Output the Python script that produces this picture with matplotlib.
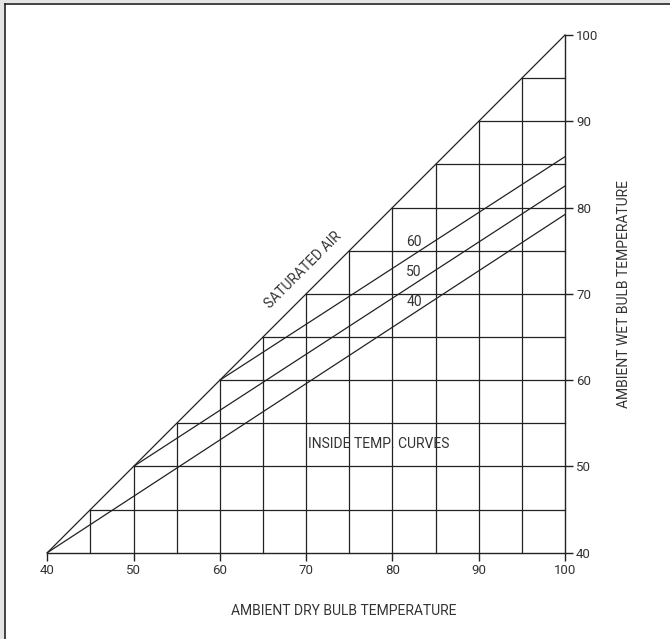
import matplotlib
matplotlib.use("Agg")
import matplotlib.pyplot as plt
from matplotlib.patches import Rectangle
from matplotlib.lines import Line2D

# chart data
ticks = [40, 50, 60, 70, 80, 90, 100]
tick_labels = ["40", "50", "60", "70", "80", "90", "100"]
grid_steps = [45, 50, 55, 60, 65, 70, 75, 80, 85, 90, 95]
curve_names = ["40", "50", "60"]
curve_x = [[40, 100], [50, 100], [60, 100]]
curve_y = [[40, 79.2], [50, 82.5], [60, 85.9]]
curve_label_pos = [(82.5, 69.1), (82.5, 72.5), (82.5, 76.0)]

W, H = 670, 639
plt.rcParams['font.family'] = ['Roboto', 'DejaVu Sans']
ink = '#222222'
txt = '#333333'

fig = plt.figure(figsize=(W / 100, H / 100), dpi=100)
fig.patch.set_facecolor('white')

# page border (gray margin at top and left)
fig.patches.append(Rectangle((0, 0), 4 / W, 1, transform=fig.transFigure,
                             facecolor='#e4e4e4', edgecolor='none'))
fig.patches.append(Rectangle((0, 1 - 3 / H), 1, 3 / H, transform=fig.transFigure,
                             facecolor='#e4e4e4', edgecolor='none'))
fig.lines.append(Line2D([4.5 / W, 4.5 / W], [0, 1 - 3.5 / H], transform=fig.transFigure,
                        color='#222222', lw=1.2))
fig.lines.append(Line2D([4.5 / W, 1], [1 - 3.5 / H, 1 - 3.5 / H], transform=fig.transFigure,
                        color='#222222', lw=1.2))

# axes placed so that 40..100 maps onto the chart square
x0, x1 = 47.3, 565.0
y0, y1 = 552.7, 35.0
ax = fig.add_axes([x0 / W, 1 - y0 / H, (x1 - x0) / W, (y0 - y1) / H])
ax.set_xlim(40, 100)
ax.set_ylim(40, 100)
ax.set_facecolor('none')

for s in ['left', 'top']:
    ax.spines[s].set_visible(False)
for s in ['bottom', 'right']:
    ax.spines[s].set_color(ink)
    ax.spines[s].set_linewidth(1.0)

ax.set_xticks(ticks)
ax.set_xticklabels(tick_labels)
ax.set_yticks(ticks)
ax.set_yticklabels(tick_labels)
ax.yaxis.tick_right()
ax.tick_params(axis='both', direction='out', length=6, width=1.0, color=ink,
               labelsize=9.5, labelcolor=txt, pad=2)

# saturated air line
ax.plot([40, 100], [40, 100], color=ink, lw=0.9, clip_on=False)

# grid: horizontals from saturation line to 100, verticals from 40 up to saturation
for v in grid_steps:
    ax.plot([v, 100], [v, v], color=ink, lw=0.9, clip_on=False)
    ax.plot([v, v], [40, v], color=ink, lw=0.9, clip_on=False)

# inside temperature curves
for xs, ys in zip(curve_x, curve_y):
    ax.plot(xs, ys, color=ink, lw=0.9, clip_on=False)
for name, (px, py) in zip(curve_names, curve_label_pos):
    ax.text(px, py, name, ha='center', va='center', fontsize=10, color=txt)

ax.text(69.7, 72.7, 'SATURATED AIR', rotation=45, rotation_mode='anchor',
        ha='center', va='center', fontsize=10, color=txt)
ax.text(70.2, 52.6, 'INSIDE TEMP. CURVES', ha='left', va='center',
        fontsize=10, color=txt)

fig.text(343.5 / W, 1 - 611 / H, 'AMBIENT DRY BULB TEMPERATURE', ha='center', va='center',
         fontsize=10, color=txt)
fig.text(624 / W, 1 - 294.5 / H, 'AMBIENT WET BULB TEMPERATURE', ha='center', va='center',
         rotation=90, fontsize=10, color=txt)

fig.savefig('out.png', dpi=100)
